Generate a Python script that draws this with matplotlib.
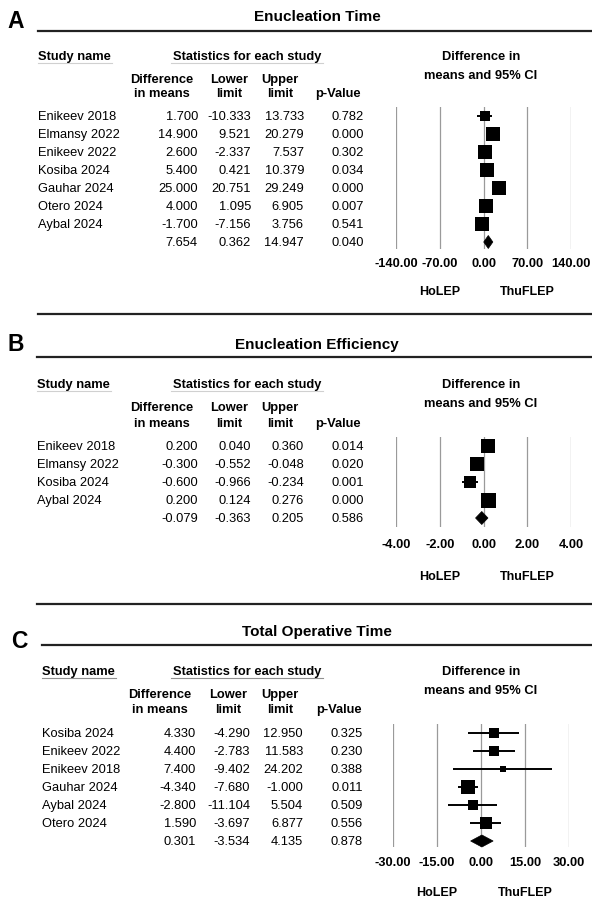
import matplotlib
matplotlib.use('Agg')
import matplotlib.pyplot as plt
from matplotlib.patches import Polygon
from matplotlib.lines import Line2D
from matplotlib.transforms import blended_transform_factory
import numpy as np

plt.rcParams['font.family'] = ['Liberation Sans', 'DejaVu Sans']

# ---------------- DATA ----------------
a_title = "Enucleation Time"
a_studies = ["Enikeev 2018", "Elmansy 2022", "Enikeev 2022", "Kosiba 2024",
             "Gauhar 2024", "Otero 2024", "Aybal 2024"]
a_diff = [1.700, 14.900, 2.600, 5.400, 25.000, 4.000, -1.700]
a_lower = [-10.333, 9.521, -2.337, 0.421, 20.751, 1.095, -7.156]
a_upper = [13.733, 20.279, 7.537, 10.379, 29.249, 6.905, 3.756]
a_p = [0.782, 0.000, 0.302, 0.034, 0.000, 0.007, 0.541]
a_weight = [8.6, 14.5, 14.5, 14.5, 16.8, 14.5, 16.8]
a_summary = [7.654, 0.362, 14.947, 0.040]
a_ticks = [-140, -70, 0, 70, 140]

b_title = "Enucleation Efficiency"
b_studies = ["Enikeev 2018", "Elmansy 2022", "Kosiba 2024", "Aybal 2024"]
b_diff = [0.200, -0.300, -0.600, 0.200]
b_lower = [0.040, -0.552, -0.966, 0.124]
b_upper = [0.360, -0.048, -0.234, 0.276]
b_p = [0.014, 0.020, 0.001, 0.000]
b_weight = [23.9, 23.9, 20.4, 31.8]
b_summary = [-0.079, -0.363, 0.205, 0.586]
b_ticks = [-4, -2, 0, 2, 4]

c_title = "Total Operative Time"
c_studies = ["Kosiba 2024", "Enikeev 2022", "Enikeev 2018", "Gauhar 2024",
             "Aybal 2024", "Otero 2024"]
c_diff = [4.330, 4.400, 7.400, -4.340, -2.800, 1.590]
c_lower = [-4.290, -2.783, -9.402, -7.680, -11.104, -3.697]
c_upper = [12.950, 11.583, 24.202, -1.000, 5.504, 6.877]
c_p = [0.325, 0.230, 0.388, 0.011, 0.509, 0.556]
c_weight = [13.3, 16.2, 3.7, 30.9, 14.7, 21.2]
c_summary = [0.301, -3.534, 4.135, 0.878]
c_ticks = [-30, -15, 0, 15, 30]

favours = ["HoLEP", "ThuFLEP"]
panel_letters = ["A", "B", "C"]

# ---------------- LAYOUT ----------------
W, H = 592, 912
fig = plt.figure(figsize=(W / 100, H / 100), dpi=100)
fig.patch.set_facecolor('white')


def fx(x):
    return x / W


def fy(y):
    return 1 - y / H


def T(x, y, s, **kw):
    fig.text(fx(x), fy(y), s, **kw)


def hline(x0, x1, y, lw=1.5, color='#222222'):
    fig.add_artist(Line2D([fx(x0), fx(x1)], [fy(y), fy(y)],
                          transform=fig.transFigure, lw=lw, color=color))


FS = 9.3
panels = [
    dict(letter=panel_letters[0], title=a_title, studies=a_studies, diff=a_diff,
         lower=a_lower, upper=a_upper, p=a_p, weight=a_weight, summ=a_summary,
         ticks=a_ticks, letter_x=16, letter_y=22, title_y=17, line_y=32,
         x_name=38, h1=57, h2a=80, h2b=94, ci2=76, row0=117, step=18,
         ftop=108, fbot=250, tick_y=264, fav_y=292, end_line=315,
         fx0=396, fx1=571, maxbox=14, dia_h=6.5, ul_color='#d0d0d0',
         cols=[198, 251, 304, 364], hcols=[162, 229, 280, 338]),
    dict(letter=panel_letters[1], title=b_title, studies=b_studies, diff=b_diff,
         lower=b_lower, upper=b_upper, p=b_p, weight=b_weight, summ=b_summary,
         ticks=b_ticks, letter_x=16, letter_y=345, title_y=345, line_y=358,
         x_name=37, h1=385, h2a=408, h2b=424, ci2=404, row0=447, step=18,
         ftop=438, fbot=528, tick_y=545, fav_y=577, end_line=605,
         fx0=396, fx1=571, maxbox=15, dia_h=6.5, ul_color='#d0d0d0',
         cols=[198, 251, 304, 364], hcols=[162, 229, 280, 338]),
    dict(letter=panel_letters[2], title=c_title, studies=c_studies, diff=c_diff,
         lower=c_lower, upper=c_upper, p=c_p, weight=c_weight, summ=c_summary,
         ticks=c_ticks, letter_x=19, letter_y=642, title_y=632, line_y=646,
         x_name=42, h1=672, h2a=695, h2b=710, ci2=691, row0=734, step=18,
         ftop=725, fbot=848, tick_y=863, fav_y=893, end_line=None,
         fx0=393, fx1=569, maxbox=14.5, dia_h=6, ul_color='#909090',
         cols=[196, 250, 303, 363], hcols=[160, 228, 280, 339]),
]

for P in panels:
    # letter and title
    T(P['letter_x'], P['letter_y'], P['letter'], fontsize=16.5, fontweight='bold',
      ha='center', va='center')
    T(317, P['title_y'], P['title'], fontsize=11, fontweight='bold',
      ha='center', va='center')
    hline(P['x_name'], W, P['line_y'], lw=1.6)
    if P['end_line'] is not None:
        hline(P['x_name'], W, P['end_line'], lw=1.6)

    # headers
    T(P['x_name'], P['h1'], "Study name", fontsize=FS, fontweight='bold',
      ha='left', va='center')
    T(247, P['h1'], "Statistics for each study", fontsize=FS, fontweight='bold',
      ha='center', va='center')
    hline(P['x_name'], P['x_name'] + 74, P['h1'] + 6.5, lw=0.8, color=P['ul_color'])
    hline(171, 323, P['h1'] + 6.5, lw=0.8, color=P['ul_color'])
    T(481, P['h1'], "Difference in", fontsize=FS, fontweight='bold',
      ha='center', va='center')
    T(481, P['ci2'], "means and 95% CI", fontsize=FS, fontweight='bold',
      ha='center', va='center')
    hc = P['hcols']
    T(hc[0], P['h2a'], "Difference", fontsize=FS, fontweight='bold', ha='center', va='center')
    T(hc[0], P['h2b'], "in means", fontsize=FS, fontweight='bold', ha='center', va='center')
    T(hc[1], P['h2a'], "Lower", fontsize=FS, fontweight='bold', ha='center', va='center')
    T(hc[1], P['h2b'], "limit", fontsize=FS, fontweight='bold', ha='center', va='center')
    T(hc[2], P['h2a'], "Upper", fontsize=FS, fontweight='bold', ha='center', va='center')
    T(hc[2], P['h2b'], "limit", fontsize=FS, fontweight='bold', ha='center', va='center')
    T(hc[3], P['h2b'], "p-Value", fontsize=FS, fontweight='bold', ha='center', va='center')

    # table rows
    n = len(P['studies'])
    cols = P['cols']
    rows = list(zip(P['studies'], P['diff'], P['lower'], P['upper'], P['p']))
    rows.append(("", P['summ'][0], P['summ'][1], P['summ'][2], P['summ'][3]))
    for i, (nm, d, lo, up, pv) in enumerate(rows):
        y = P['row0'] + i * P['step']
        T(P['x_name'], y, nm, fontsize=FS, ha='left', va='center')
        for cx, v in zip(cols, [d, lo, up, pv]):
            T(cx, y, f"{v:.3f}", fontsize=FS, ha='right', va='center')

    # forest plot axes
    ax = fig.add_axes([fx(P['fx0']), fy(P['fbot']),
                       (P['fx1'] - P['fx0']) / W, (P['fbot'] - P['ftop']) / H])
    ax.axis('off')
    ticks = P['ticks']
    ax.set_xlim(ticks[0], ticks[-1])
    ax.set_ylim((P['fbot'] - P['row0']) / P['step'], (P['ftop'] - P['row0']) / P['step'])
    for t in ticks:
        ax.axvline(t, color='#9a9a9a', lw=0.9, zorder=1)
    idx = np.arange(n)
    ax.hlines(idx, P['lower'], P['upper'], color='black', lw=1.4, zorder=2,
              clip_on=False)
    w = np.array(P['weight'])
    sides = P['maxbox'] * np.sqrt(w / w.max())
    for i in range(n):
        ax.plot([P['diff'][i]], [i], marker='s', linestyle='none', color='black',
                markersize=sides[i] * 0.72, markeredgewidth=0, zorder=3,
                clip_on=False)
    est, lo, up = P['summ'][0], P['summ'][1], P['summ'][2]
    hh = P['dia_h'] / P['step']
    dia = Polygon([(lo, n), (est, n - hh), (up, n), (est, n + hh)], closed=True,
                  facecolor='black', edgecolor='black', lw=0.5, zorder=3,
                  clip_on=False)
    ax.add_patch(dia)

    tr = blended_transform_factory(ax.transData, fig.transFigure)
    for t in ticks:
        ax.text(t, fy(P['tick_y']), f"{t:.2f}", transform=tr, fontsize=FS,
                fontweight='bold', ha='center', va='center')
    ax.text(ticks[1], fy(P['fav_y']), favours[0], transform=tr, fontsize=9,
            fontweight='bold', ha='center', va='center')
    ax.text(ticks[3], fy(P['fav_y']), favours[1], transform=tr, fontsize=9,
            fontweight='bold', ha='center', va='center')

fig.savefig('out.png', dpi=100, facecolor='white')
